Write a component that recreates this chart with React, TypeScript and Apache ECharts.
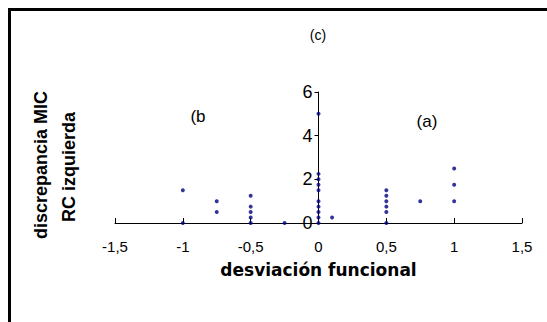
import React, { useEffect, useRef } from "react";
import * as echarts from "echarts";

const xTicks = ["-1,5", "-1", "-0,5", "0", "0,5", "1", "1,5"];
const yTicks = ["0", "2", "4", "6"];
const xValues = [
  -1, -1,
  -0.75, -0.75,
  -0.5, -0.5, -0.5, -0.5, -0.5,
  -0.25,
  0, 0, 0, 0, 0, 0, 0, 0, 0, 0,
  0.1,
  0.5, 0.5, 0.5, 0.5, 0.5, 0.5,
  0.75,
  1, 1, 1,
];
const yValues = [
  1.5, 0,
  1, 0.5,
  1.25, 0.75, 0.5, 0.25, 0,
  0,
  5, 2.25, 2, 1.75, 1.5, 1, 0.75, 0.5, 0.25, 0,
  0.25,
  1.5, 1.25, 1, 0.75, 0.5, 0,
  1,
  2.5, 1.75, 1,
];
const labels = ["(a)", "(b", "(c)"];
const xTitle = "desviación funcional";
const yTitle = ["discrepancia MIC", "RC izquierda"];

export default function App() {
  const ref = useRef<HTMLDivElement>(null);
  useEffect(() => {
    if (!ref.current) return;
    const chart = echarts.init(ref.current, null, { renderer: "svg" });
    const font = "'Liberation Sans', Arial, sans-serif";
    const gridLeft = 115;
    const gridRight = 25;
    const plotW = 547 - gridLeft - gridRight;
    const fmtX = (v: number) => {
      const idx = Math.round((v + 1.5) / 0.5);
      return xTicks[idx] ?? "";
    };
    chart.setOption({
      animation: false,
      backgroundColor: "transparent",
      grid: { left: gridLeft, right: gridRight, top: 92, bottom: 99, containLabel: false },
      xAxis: {
        type: "value",
        min: -1.5,
        max: 1.5,
        interval: 0.5,
        name: xTitle,
        nameLocation: "middle",
        nameGap: 38,
        nameTextStyle: { fontFamily: "'DejaVu Sans', sans-serif", fontSize: 17, fontWeight: "bold", color: "#000" },
        splitLine: { show: false },
        axisLine: { onZero: false, lineStyle: { color: "#000", width: 1 } },
        axisTick: { inside: true, length: 5, lineStyle: { color: "#000" } },
        axisLabel: {
          formatter: fmtX,
          fontFamily: font,
          fontSize: 15,
          color: "#000",
          margin: 16,
        },
      },
      yAxis: {
        type: "value",
        min: 0,
        max: 6,
        interval: 2,
        offset: -plotW / 2,
        splitLine: { show: false },
        axisLine: { onZero: false, lineStyle: { color: "#000", width: 1 } },
        axisTick: { inside: false, length: 4, lineStyle: { color: "#000" } },
        axisLabel: {
          formatter: (v: number) => yTicks[Math.round(v / 2)] ?? "",
          fontFamily: font,
          fontSize: 18,
          color: "#000",
          margin: 6,
        },
      },
      series: [
        {
          type: "scatter",
          data: xValues.map((x, i) => [x, yValues[i]]),
          symbol: "circle",
          symbolSize: 4,
          itemStyle: { color: "#000080" },
        },
      ],
      graphic: [
        {
          type: "text",
          x: 318,
          y: 35,
          style: { text: labels[2], font: `14px ${font}`, fill: "#000", align: "center", verticalAlign: "middle" },
        },
        {
          type: "text",
          x: 198,
          y: 116,
          style: { text: labels[1], font: `17px ${font}`, fill: "#000", align: "center", verticalAlign: "middle" },
        },
        {
          type: "text",
          x: 427,
          y: 121,
          style: { text: labels[0], font: `17px ${font}`, fill: "#000", align: "center", verticalAlign: "middle" },
        },
        {
          type: "text",
          x: 41,
          y: 165,
          rotation: Math.PI / 2,
          style: { text: yTitle[0], font: `bold 18px ${font}`, fill: "#000", align: "center", verticalAlign: "middle" },
        },
        {
          type: "text",
          x: 69,
          y: 167,
          rotation: Math.PI / 2,
          style: { text: yTitle[1], font: `bold 18px ${font}`, fill: "#000", align: "center", verticalAlign: "middle" },
        },
      ],
    });
    return () => chart.dispose();
  }, []);
  return (
    <div
      style={{
        position: "absolute",
        left: 0,
        top: 0,
        width: 547,
        height: 322,
        overflow: "hidden",
        background: "#fff",
      }}
    >
      <div
        style={{
          position: "absolute",
          left: 8,
          top: 8,
          width: 600,
          height: 400,
          borderTop: "3px solid #000",
          borderLeft: "3px solid #000",
          boxSizing: "border-box",
        }}
      />
      <div
        ref={ref}
        style={{ position: "absolute", left: 0, top: 0, width: 547, height: 322 }}
      />
    </div>
  );
}
